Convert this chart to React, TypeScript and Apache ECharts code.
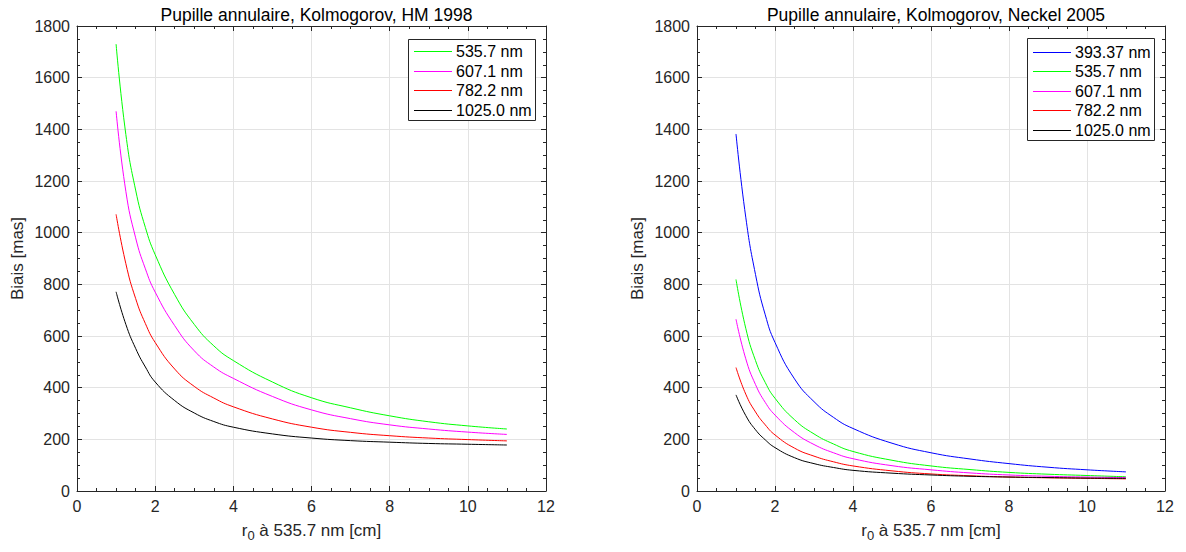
import React, { useEffect, useRef } from "react";
import * as echarts from "echarts";

const xValues = [1, 1.25, 1.5, 1.75, 2, 2.5, 3, 3.5, 4, 5, 6, 7, 8, 9, 10, 11];

// Left: HM 1998
const hmGreen = [1730, 1380, 1165, 1020, 915, 760, 645, 562, 505, 422, 361, 322, 291, 268, 252, 240];
const hmMagenta = [1470, 1160, 980, 860, 770, 640, 543, 480, 436, 366, 314, 280, 256, 240, 228, 219];
const hmRed = [1071, 880, 745, 648, 575, 472, 405, 360, 326, 279, 247, 227, 214, 205, 199, 194];
const hmBlack = [771, 645, 552, 480, 422, 350, 302, 269, 247, 221, 205, 195, 189, 184, 181, 178];

// Right: Neckel 2005
const nkBlue = [1382, 1060, 838, 682, 575, 434, 346, 285, 242, 185, 148, 124, 106, 92, 82, 74];
const nkGreen = [819, 630, 505, 420, 359, 276, 221, 182, 153, 119, 97, 83, 72, 65, 60, 55];
const nkMagenta = [665, 512, 412, 343, 294, 226, 180, 148, 125, 98, 82, 70, 62, 57, 54, 52];
const nkRed = [478, 375, 306, 256, 217, 166, 135, 113, 97, 78, 66, 59, 54, 51, 49, 47];
const nkBlack = [372, 292, 237, 198, 168, 129, 106, 91, 80, 69, 62, 57, 54, 52, 50, 49];

const leftNames = ["535.7 nm", "607.1 nm", "782.2 nm", "1025.0 nm"];
const leftColors = ["#00ff00", "#ff00ff", "#ff0000", "#000000"];
const rightNames = ["393.37 nm", "535.7 nm", "607.1 nm", "782.2 nm", "1025.0 nm"];
const rightColors = ["#0000ff", "#00ff00", "#ff00ff", "#ff0000", "#000000"];
const titles = ["Pupille annulaire, Kolmogorov, HM 1998", "Pupille annulaire, Kolmogorov, Neckel 2005"];
const yLabel = "Biais [mas]";

const FONT = "Liberation Sans, Arial, Helvetica, sans-serif";
const AX = "#262626";

function pairs(ys: number[]) {
  return xValues.map((x, i) => [x, ys[i]]);
}

function mkSeries(name: string, ys: number[], color: string, idx: number) {
  return {
    type: "line",
    name,
    data: pairs(ys),
    xAxisIndex: idx,
    yAxisIndex: idx,
    showSymbol: false,
    symbol: "none",
    smooth: 0.5,
    lineStyle: { color, width: 1 },
    itemStyle: { color },
    color,
  };
}

function xAx(gridIndex: number, top: boolean) {
  return {
    type: "value",
    gridIndex,
    position: top ? "top" : "bottom",
    min: 0,
    max: 12,
    interval: 2,
    axisLine: { show: true, onZero: false, lineStyle: { color: AX, width: 1 } },
    axisTick: { show: true, inside: true, length: 5, lineStyle: { color: AX } },
    minorTick: { show: true, splitNumber: 4, length: 3, lineStyle: { color: AX } },
    axisLabel: top
      ? { show: false }
      : { show: true, color: AX, fontSize: 16, fontFamily: FONT, margin: 7 },
    splitLine: top ? { show: false } : { show: true, lineStyle: { color: "#e3e3e3", width: 1 } },
    name: top ? "" : "{a|r}{s|0}{a| à 535.7 nm [cm]}",
    nameLocation: "middle",
    nameGap: 27,
    nameTextStyle: {
      rich: {
        a: { fontSize: 17, color: AX, fontFamily: FONT },
        s: { fontSize: 13, color: AX, fontFamily: FONT, verticalAlign: "bottom", padding: [11, 0, 0, 0] },
      },
    },
  };
}

function yAx(gridIndex: number, right: boolean) {
  return {
    type: "value",
    gridIndex,
    position: right ? "right" : "left",
    min: 0,
    max: 1800,
    interval: 200,
    axisLine: { show: true, onZero: false, lineStyle: { color: AX, width: 1 } },
    axisTick: { show: true, inside: true, length: 5, lineStyle: { color: AX } },
    minorTick: { show: true, splitNumber: 4, length: 3, lineStyle: { color: AX } },
    axisLabel: right
      ? { show: false }
      : {
          show: true,
          color: AX,
          fontSize: 16,
          fontFamily: FONT,
          margin: 7,
          formatter: (v: number) => String(v),
        },
    splitLine: right ? { show: false } : { show: true, lineStyle: { color: "#e3e3e3", width: 1 } },
    name: right ? "" : yLabel,
    nameLocation: "middle",
    nameRotate: 90,
    nameGap: 51,
    nameTextStyle: { fontSize: 17, color: AX, fontFamily: FONT },
  };
}

function legendElems(prefix: string, x: number, y: number, w: number, h: number, firstY: number, step: number, names: string[], colors: string[]) {
  const els: any[] = [
    {
      type: "rect",
      id: prefix + "-box",
      z: 100,
      shape: { x: x + 0.5, y: y + 0.5, width: w, height: h },
      style: { fill: "#ffffff", stroke: AX, lineWidth: 1 },
    },
  ];
  names.forEach((n, i) => {
    const cy = Math.round(firstY + i * step);
    els.push({
      type: "rect",
      id: prefix + "-ln" + i,
      z: 101,
      shape: { x: x + 6, y: cy, width: 38, height: 1 },
      style: { fill: colors[i], stroke: null },
    });
    els.push({
      type: "text",
      id: prefix + "-tx" + i,
      z: 102,
      x: x + 48,
      y: cy + 0.5,
      style: {
        text: n,
        fill: "#000000",
        fontSize: 16,
        fontFamily: FONT,
        verticalAlign: "middle",
        align: "left",
      },
    });
  });
  return els;
}

export default function App() {
  const ref = useRef<HTMLDivElement>(null);
  useEffect(() => {
    if (!ref.current) return;
    const chart = echarts.init(ref.current, undefined, { renderer: "svg" });
    chart.setOption({
      animation: false,
      backgroundColor: "#ffffff",
      title: [
        {
          text: titles[0],
          left: 311.5,
          top: 1,
          textAlign: "center",
          textStyle: { fontSize: 17.5, fontWeight: "normal", color: "#000", fontFamily: FONT },
        },
        {
          text: titles[1],
          left: 931,
          top: 1,
          textAlign: "center",
          textStyle: { fontSize: 17.5, fontWeight: "normal", color: "#000", fontFamily: FONT },
        },
      ],
      graphic: [
        ...legendElems("L", 408, 39, 127, 81, 51, 19.5, leftNames, leftColors),
        ...legendElems("R", 1027, 38, 127, 102, 52, 19.4, rightNames, rightColors),
      ],
      grid: [
        { left: 77, top: 26, width: 469, height: 465 },
        { left: 697, top: 26, width: 468, height: 465 },
      ],
      xAxis: [xAx(0, false), xAx(0, true), xAx(1, false), xAx(1, true)],
      yAxis: [yAx(0, false), yAx(0, true), yAx(1, false), yAx(1, true)],
      series: [
        mkSeries("535.7 nm", hmGreen, "#00ff00", 0),
        mkSeries("607.1 nm", hmMagenta, "#ff00ff", 0),
        mkSeries("782.2 nm", hmRed, "#ff0000", 0),
        mkSeries("1025.0 nm", hmBlack, "#000000", 0),
        mkSeries("393.37 nm", nkBlue, "#0000ff", 2),
        mkSeries("535.7 nm", nkGreen, "#00ff00", 2),
        mkSeries("607.1 nm", nkMagenta, "#ff00ff", 2),
        mkSeries("782.2 nm", nkRed, "#ff0000", 2),
        mkSeries("1025.0 nm", nkBlack, "#000000", 2),
      ],
    });
    return () => chart.dispose();
  }, []);
  return (
    <div
      ref={ref}
      style={{ position: "fixed", left: 0, top: 0, width: 1186, height: 552 }}
    />
  );
}
